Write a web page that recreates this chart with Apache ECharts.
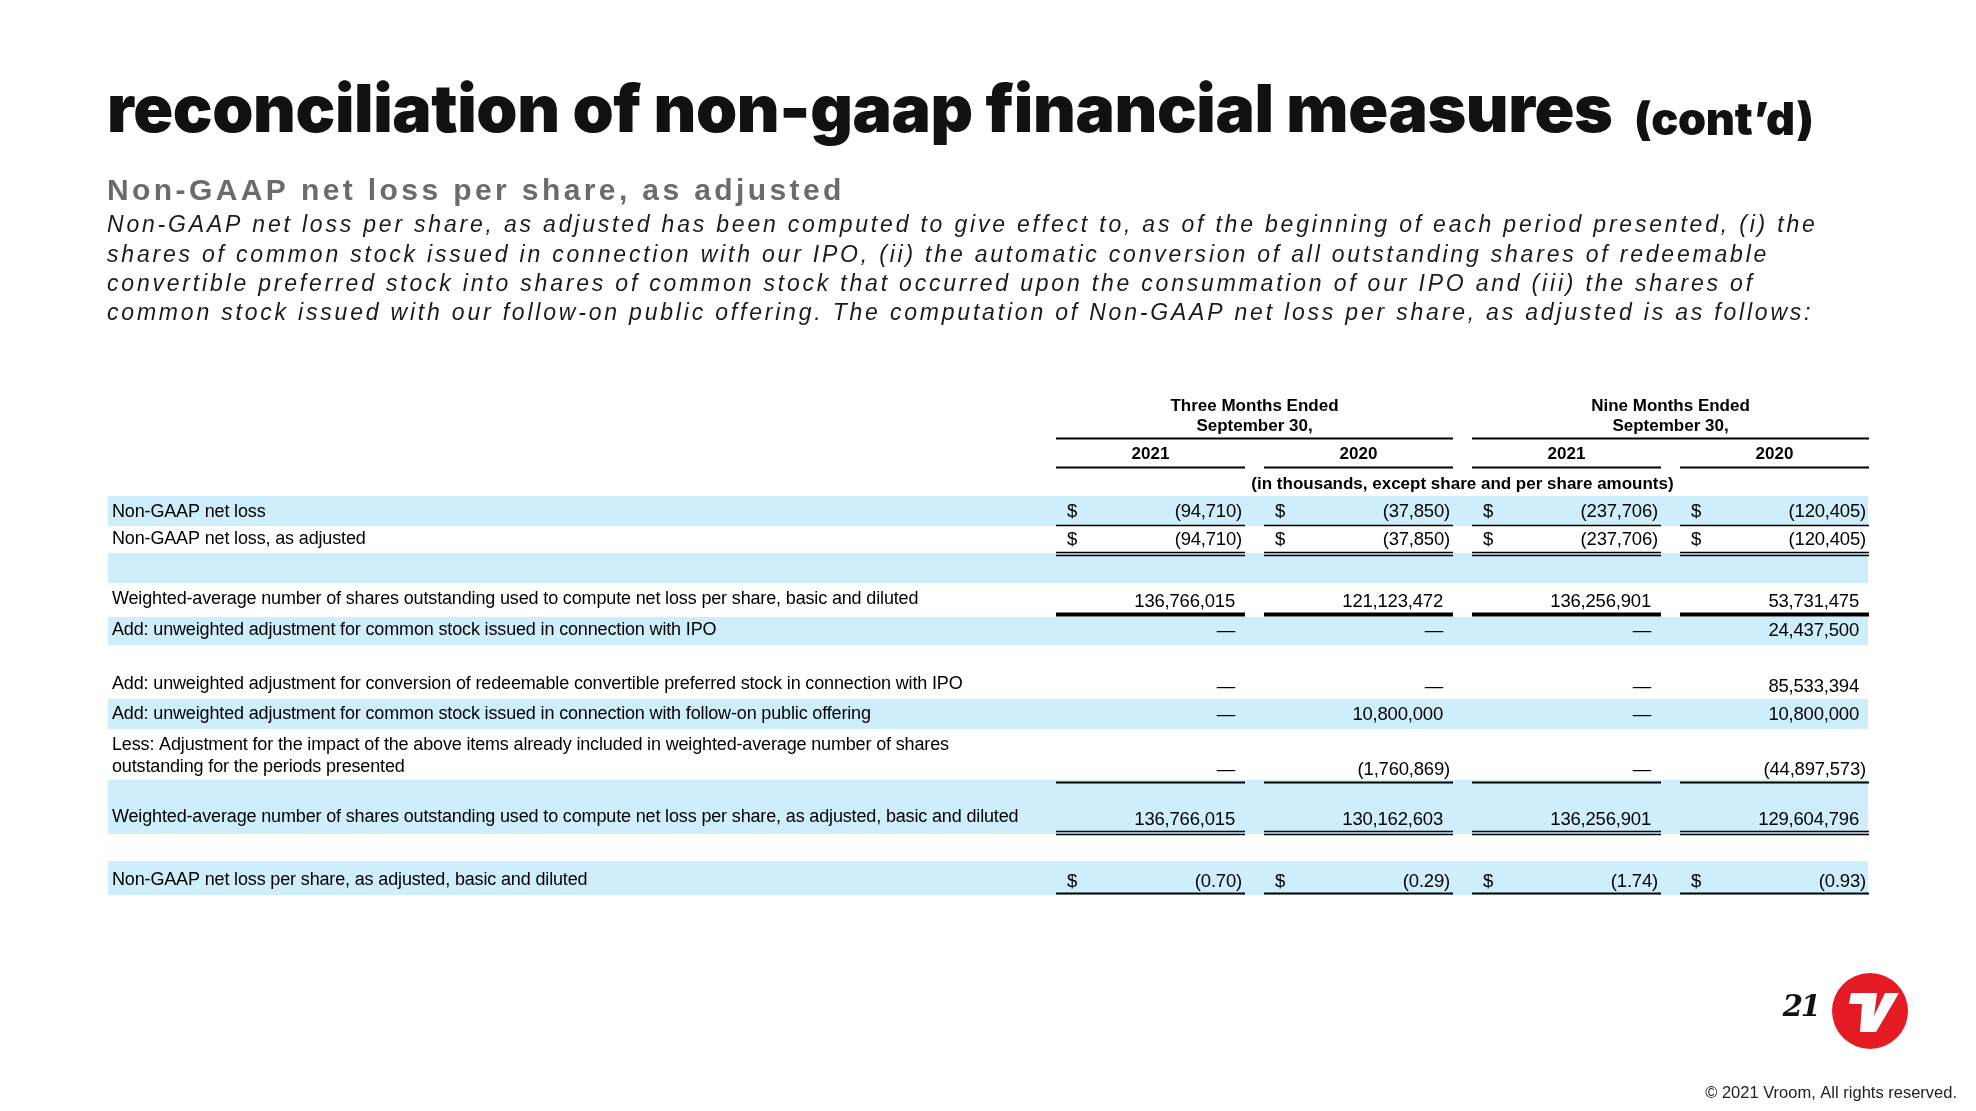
<!DOCTYPE html>
<html>
<head>
<meta charset="utf-8">
<script src="https://cdn.jsdelivr.net/npm/echarts@6/dist/echarts.min.js"></script>
<style>
html,body{margin:0;padding:0;background:#fff;}
#chart{width:1976px;height:1111px;}
</style>
</head>
<body>
<div id="chart"></div>
<script>
// ---- letter-spacing support: a marker family "LS<n>px" in a font string sets canvas letterSpacing
(function(){
  var proto = CanvasRenderingContext2D.prototype;
  var desc = Object.getOwnPropertyDescriptor(proto, 'font');
  if (!desc || !desc.set) return;
  Object.defineProperty(proto, 'font', {
    configurable: true,
    get: function(){ return desc.get.call(this); },
    set: function(v){
      desc.set.call(this, v);
      if ('letterSpacing' in this) {
        var m = /LS(-?\d+(?:\.\d+)?)px/.exec(v);
        this.letterSpacing = m ? (m[1] + 'px') : '0px';
      }
    }
  });
})();

// ---------------- DATA ----------------
const titleMain = 'reconciliation of non-gaap financial measures';
const titleSuffix = '(cont\u2019d)';
const subtitle = 'Non-GAAP net loss per share, as adjusted';
const paragraphLines = [
  'Non-GAAP net loss per share, as adjusted has been computed to give effect to, as of the beginning of each period presented, (i) the',
  'shares of common stock issued in connection with our IPO, (ii) the automatic conversion of all outstanding shares of redeemable',
  'convertible preferred stock into shares of common stock that occurred upon the consummation of our IPO and (iii) the shares of',
  'common stock issued with our follow-on public offering. The computation of Non-GAAP net loss per share, as adjusted is as follows:'
];
const periodLabels = ['Three Months Ended\nSeptember 30,', 'Nine Months Ended\nSeptember 30,'];
const yearLabels = ['2021', '2020', '2021', '2020'];
const unitsNote = '(in thousands, except share and per share amounts)';
const rowLabels = [
  'Non-GAAP net loss',
  'Non-GAAP net loss, as adjusted',
  '',
  'Weighted-average number of shares outstanding used to compute net loss per share, basic and diluted',
  'Add: unweighted adjustment for common stock issued in connection with IPO',
  'Add: unweighted adjustment for conversion of redeemable convertible preferred stock in connection with IPO',
  'Add: unweighted adjustment for common stock issued in connection with follow-on public offering',
  'Less: Adjustment for the impact of the above items already included in weighted-average number of shares\noutstanding for the periods presented',
  'Weighted-average number of shares outstanding used to compute net loss per share, as adjusted, basic and diluted',
  '',
  'Non-GAAP net loss per share, as adjusted, basic and diluted'
];
// 0 shown as dash, null = empty cell
const threeMonths2021 = [-94710, -94710, null, 136766015, 0, 0, 0, 0, 136766015, null, -0.70];
const threeMonths2020 = [-37850, -37850, null, 121123472, 0, 0, 10800000, -1760869, 130162603, null, -0.29];
const nineMonths2021  = [-237706, -237706, null, 136256901, 0, 0, 0, 0, 136256901, null, -1.74];
const nineMonths2020  = [-120405, -120405, null, 53731475, 24437500, 85533394, 10800000, -44897573, 129604796, null, -0.93];
const rowDecimals = [0, 0, 0, 0, 0, 0, 0, 0, 0, 0, 2];
const pageNumber = '21';
const footerText = '\u00A9 2021 Vroom, All rights reserved.';

// ---------------- LAYOUT / STYLE ----------------
const columns = [threeMonths2021, threeMonths2020, nineMonths2021, nineMonths2020];
const BLUE = '#cdeefa';
const TABLE_L = 108, TABLE_R = 1868;
const COL_X = [1056, 1264, 1472, 1680], COL_W = 189;
// top, height, band, label y, value y, $ sign, underline
const rowLayout = [
  {top:496, h:30, blue:true,  ly:512,   vy:512,   dollar:true,  line:{t:'single', y:525.5, w:1.5}},
  {top:526, h:27, blue:false, ly:539.5, vy:540,   dollar:true,  line:{t:'double', y:552.5, w:1.4}},
  {top:553, h:30, blue:true},
  {top:583, h:34, blue:false, ly:599,   vy:602,   line:{t:'single', y:614.5, w:4}},
  {top:617, h:28, blue:true,  ly:630,   vy:631},
  {top:645, h:54, blue:false, ly:684,   vy:687},
  {top:699, h:30, blue:true,  ly:714.5, vy:715},
  {top:729, h:51, blue:false, ly:756,   vy:770,   line:{t:'single', y:782.5, w:2}},
  {top:780, h:54, blue:true,  ly:817,   vy:820,   line:{t:'double', y:831.5, w:1.4}},
  {top:834, h:27, blue:false},
  {top:861, h:34, blue:true,  ly:880,   vy:882,   dollar:true,  line:{t:'single', y:893.5, w:2}}
];
const LABEL_FONT = "400 18px 'LS-0.15px', 'Liberation Sans', Arial, sans-serif";
const VALUE_FONT = "400 18.5px 'LS-0.2px', 'Liberation Sans', Arial, sans-serif";
const HEAD_FONT = "700 17px 'Liberation Sans', Arial, sans-serif";

function fmt(v, dec){
  if (v === null || v === undefined) return '';
  if (v === 0) return '\u2014';
  const s = Math.abs(v).toLocaleString('en-US', {minimumFractionDigits: dec, maximumFractionDigits: dec});
  return v < 0 ? '(' + s + ')' : s;
}

function lineSeg(api, x1, x2, y, w){
  const a = api.coord([x1, y]), b = api.coord([x2, y]);
  return {type:'line', z2:10, silent:true, shape:{x1:a[0], y1:a[1], x2:b[0], y2:b[1]}, style:{stroke:'#000', lineWidth:w}};
}

function renderBand(params, api){
  const i = api.value(0);
  const L = rowLayout[i];
  if (!L.blue) return {type:'group', children:[]};
  const a = api.coord([TABLE_L, L.top]), b = api.coord([TABLE_R, L.top + L.h]);
  return {type:'rect', z2:0, silent:true, shape:{x:a[0], y:a[1], width:b[0]-a[0], height:b[1]-a[1]}, style:{fill:BLUE}};
}

function renderRow(params, api){
  const i = api.value(0);
  const L = rowLayout[i];
  const children = [];
  if (rowLabels[i]) {
    const p = api.coord([112, L.ly]);
    children.push({type:'text', z2:5, silent:true, style:{text:rowLabels[i], x:p[0], y:p[1], font:LABEL_FONT, fill:'#000', align:'left', verticalAlign:'middle', lineHeight:22.5}});
  }
  columns.forEach(function(col, c){
    const v = col[i];
    if (v !== null && v !== undefined) {
      const txt = fmt(v, rowDecimals[i]);
      const right = COL_X[c] + COL_W - (v < 0 ? 3 : 10);
      const p = api.coord([right, L.vy]);
      children.push({type:'text', z2:5, silent:true, style:{text:txt, x:p[0], y:p[1], font:VALUE_FONT, fill:'#000', align:'right', verticalAlign:'middle'}});
      if (L.dollar) {
        const d = api.coord([COL_X[c] + 11, L.vy]);
        children.push({type:'text', z2:5, silent:true, style:{text:'$', x:d[0], y:d[1], font:VALUE_FONT, fill:'#000', align:'left', verticalAlign:'middle'}});
      }
    }
    if (L.line) {
      if (L.line.t === 'single') children.push(lineSeg(api, COL_X[c], COL_X[c] + COL_W, L.line.y, L.line.w));
      else {
        children.push(lineSeg(api, COL_X[c], COL_X[c] + COL_W, L.line.y, L.line.w));
        children.push(lineSeg(api, COL_X[c], COL_X[c] + COL_W, L.line.y + 3, L.line.w));
      }
    }
  });
  return {type:'group', children:children};
}

function renderHeader(params, api){
  const children = [];
  periodLabels.forEach(function(t, k){
    const cx = (COL_X[2*k] + COL_X[2*k+1] + COL_W) / 2;
    const p = api.coord([cx, 416]);
    children.push({type:'text', silent:true, style:{text:t, x:p[0], y:p[1], font:HEAD_FONT, fill:'#000', align:'center', verticalAlign:'middle', lineHeight:20}});
    children.push(lineSeg(api, COL_X[2*k], COL_X[2*k+1] + COL_W, 438.5, 2));
  });
  yearLabels.forEach(function(t, c){
    const p = api.coord([COL_X[c] + COL_W/2, 454]);
    children.push({type:'text', silent:true, style:{text:t, x:p[0], y:p[1], font:HEAD_FONT, fill:'#000', align:'center', verticalAlign:'middle'}});
    children.push(lineSeg(api, COL_X[c], COL_X[c] + COL_W, 467.5, 2));
  });
  const u = api.coord([(COL_X[0] + COL_X[3] + COL_W)/2, 484]);
  children.push({type:'text', silent:true, style:{text:unitsNote, x:u[0], y:u[1], font:HEAD_FONT, fill:'#000', align:'center', verticalAlign:'middle'}});
  return {type:'group', children:children};
}

const rowIdx = rowLabels.map(function(_, i){ return [i]; });

const graphics = [
  {type:'text', left:107, top:79, silent:true, style:{text:titleMain, font:"900 66px 'LS-0.4px', Inter, Lato, sans-serif", fill:'#111'}},
  {type:'text', left:1634, top:99, silent:true, style:{text:titleSuffix, font:"900 45px 'LS-0.3px', Inter, Lato, sans-serif", fill:'#111'}},
  {type:'text', left:107, top:175, silent:true, style:{text:subtitle, font:"700 30px 'LS3.4px', 'Liberation Sans', Arial, sans-serif", fill:'#6b6b6b'}}
];
paragraphLines.forEach(function(t, k){
  graphics.push({type:'text', left:107, top:213 + k*29.4, silent:true, style:{text:t, font:"italic 400 23px 'LS2.8px', 'Liberation Sans', Arial, sans-serif", fill:'#1a1a1a'}});
});
// page number + logo
graphics.push({type:'text', right:1976-1819, top:995, silent:true, style:{text:pageNumber, font:"italic 700 29px 'LS-2px', 'DejaVu Serif', serif", fill:'#111'}});
graphics.push({type:'circle', silent:true, shape:{cx:1870, cy:1011, r:38}, style:{fill:'#e41b23'}});
graphics.push({type:'polygon', silent:true, shape:{points:[[1851,993],[1877,993],[1874,1016],[1885,993],[1899,993],[1876,1032],[1860,1032],[1862,1004],[1849,1004]]}, style:{fill:'#fff'}});
graphics.push({type:'text', right:19, top:1085, silent:true, style:{text:footerText, font:"400 16.5px 'Liberation Sans', Arial, sans-serif", fill:'#222'}});

const chart = echarts.init(document.getElementById('chart'), null, {renderer:'canvas'});
chart.setOption({
  animation:false,
  backgroundColor:'#fff',
  grid:{left:0, right:0, top:0, bottom:0},
  xAxis:{type:'value', min:0, max:1976, show:false},
  yAxis:{type:'value', min:0, max:1111, inverse:true, show:false},
  graphic: graphics,
  series:[
    {type:'custom', name:'bands', data:rowIdx, renderItem:renderBand, silent:true, z:1},
    {type:'custom', name:'rows', data:rowIdx, renderItem:renderRow, silent:true, z:3},
    {type:'custom', name:'header', data:[[0]], renderItem:renderHeader, silent:true, z:3}
  ]
});
</script>
</body>
</html>
